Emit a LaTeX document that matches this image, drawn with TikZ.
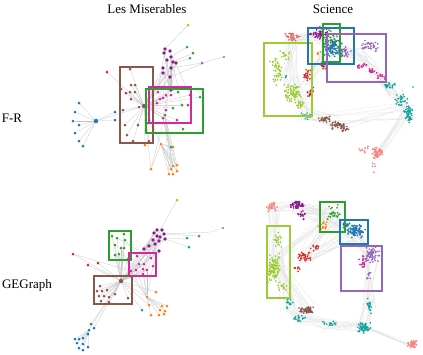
\documentclass[tikz,border=0pt]{standalone}
\usepackage{fontspec}
\setmainfont{Liberation Serif}
\usepackage{xcolor}
\usetikzlibrary{backgrounds}

\definecolor{cblue}{HTML}{1F77B4}
\definecolor{corange}{HTML}{FF7F0E}
\definecolor{cgreen}{HTML}{2CA02C}
\definecolor{cred}{HTML}{D62728}
\definecolor{clav}{HTML}{9467BD}
\definecolor{cbrown}{HTML}{8C564B}
\definecolor{cmag}{HTML}{D12A9E}
\definecolor{cpurp}{HTML}{8B1A8B}
\definecolor{clime}{HTML}{9ACD32}
\definecolor{cteal}{HTML}{17A2A2}
\definecolor{csalm}{HTML}{F8837A}
\definecolor{csalmb}{HTML}{E06662}

\tikzset{
  dot/.style={circle,inner sep=0pt,minimum size=3pt},
  hub/.style={circle,inner sep=0pt,minimum size=4.5pt},
  edge/.style={gray!45,line width=0.3pt},
  web/.style={black!11,line width=0.25pt},
  box/.style={line width=1.2pt},
  title/.style={font=\fontsize{13}{15}\selectfont}
}

% random cloud of small points: colour, cx, cy, rx, ry, count
\newcommand\ptcloud[6]{%
  \foreach \k in {1,...,#6}{%
    \pgfmathsetmacro\px{#2+#4*(rand+rand)/2}%
    \pgfmathsetmacro\py{#3+#5*(rand+rand)/2}%
    \fill[#1] (\px,\py) circle (0.95pt);
  }}
% faint bundle of lines: x1, y1, x2, y2, count, jitter
\newcommand\webl[6]{%
  \foreach \k in {1,...,#5}{%
    \pgfmathsetmacro\ax{#1+#6*rand}\pgfmathsetmacro\ay{#2+#6*rand}%
    \pgfmathsetmacro\bx{#3+#6*rand}\pgfmathsetmacro\by{#4+#6*rand}%
    \draw[web] (\ax,\ay) -- (\bx,\by);
  }}

\begin{document}
\begin{tikzpicture}[x=1pt,y=-1pt]
\useasboundingbox (0,0) rectangle (423,354);
\pgfmathsetseed{7}

% titles
\node[title] (tles) at (147,9) {Les Miserables};
\node[title] (tsci) at (333,9) {Science};
\node[title] (tfr) at (12,118) {F-R};
\node[title] (tge) at (27,285) {GEGraph};

% ---------- F-R, Les Miserables ----------
\node[hub,fill=cblue] (Abh) at (96,121) {};
\foreach \x/\y [count=\i] in {79/103,75/112,73/121,79/125,75/133,79/141,83/146,115/112,115/120}
  \node[dot,fill=cblue] (Ab\i) at (\x,\y) {};
\foreach \x/\y [count=\i] in {107/72,121/89,126/93}
  \node[dot,fill=cred] (Ar\i) at (\x,\y) {};
\node[hub,fill=cbrown] (Ah) at (144,106) {};
\foreach \x/\y [count=\i] in {130/69,131/85,135/85,130/92,135/92,131/99,139/107,123/110,125/125,138/125,127/135,133/141,149/141}
  \node[dot,fill=cbrown] (An\i) at (\x,\y) {};
\foreach \x/\y [count=\i] in {165/49,170/51,164/53,171/57,167/60,173/62,176/63,163/68,171/68,163/73,170/77,171/90}
  \node[dot,minimum size=3.6pt,fill=cpurp] (Ap\i) at (\x,\y) {};
\foreach \x/\y [count=\i] in {158/92,166/95,171/95,160/99,163/98,157/103,153/108,166/110,163/118,177/120,188/105}
  \node[dot,fill=cmag] (Am\i) at (\x,\y) {};
\foreach \x/\y [count=\i] in {178/92,190/95,200/97,182/105,173/108,165/115,153/126,183/129,148/123}
  \node[dot,fill=cgreen] (Ag\i) at (\x,\y) {};
\foreach \x/\y [count=\i] in {145/145,161/144,173/147,151/169,173/166,177/165,171/169,177/171,169/174,173/174}
  \node[dot,fill=corange] (Ao\i) at (\x,\y) {};
\node[dot,fill=clime] (Al) at (188,25) {};
\node[dot,fill=cteal] (At1) at (187,47) {};
\node[dot,fill=cteal] (At2) at (190,58) {};
\node[dot,fill=cteal] (At3) at (171,147) {};
\node[dot,fill=cgreen] (Ag0) at (193,53) {};
\node[dot,fill=clav] (Av) at (202,63) {};
\coordinate (Aout) at (211,60);
\begin{scope}[on background layer]
\foreach \i in {1,...,9} \draw[edge] (Abh) -- (Ab\i);
\draw[edge] (Abh) -- (Ah);
\foreach \i in {1,...,13} \draw[edge] (Ah) -- (An\i);
\foreach \i in {1,...,3} \draw[edge] (Ah) -- (Ar\i);
\foreach \i in {1,...,11} \draw[edge] (Ah) -- (Am\i);
\foreach \i in {1,...,9} \draw[edge] (Ah) -- (Ag\i);
\foreach \i in {1,2,4} \draw[edge] (Ah) -- (Ao\i);
\foreach \i in {6,...,12} \draw[edge] (Ah) -- (Ap\i);
\foreach \i in {1,...,11} \draw[edge] (Ap\i) -- (Ap12);
\foreach \i in {1,3,5,7,9} \draw[edge] (Ap\i) -- (Am\i);
\foreach \i in {2,4,6} \draw[edge] (Ap\i) -- (Ag\i);
\draw[edge] (Ap1) -- (Al);
\draw[edge] (Ap4) -- (At1);
\draw[edge] (Ap7) -- (At2);
\draw[edge] (Ap6) -- (Ag0);
\draw[edge] (Ap9) -- (Av);
\draw[edge] (Ap11) -- (Aout);
\foreach \i in {3,...,10} \draw[edge] (Ao2) -- (Ao\i);
\foreach \i in {4,...,10} \draw[edge] (Ag6) -- (Ao\i);
\foreach \i in {5,8} \draw[edge] (Am9) -- (Ao\i);
\draw[edge] (At3) -- (Ao2);
\end{scope}
\draw[box,cbrown] (120,67) rectangle (153,143);
\draw[box,cmag] (149,87) rectangle (191,123);
\draw[box,cgreen] (146,89) rectangle (203,133);

% ---------- F-R, Science ----------
\webl{292}{38}{318}{35}{18}{6}
\webl{318}{35}{334}{48}{25}{7}
\webl{334}{48}{360}{55}{25}{8}
\webl{360}{55}{375}{72}{18}{6}
\webl{375}{72}{395}{92}{18}{6}
\webl{395}{92}{408}{112}{18}{8}
\webl{292}{38}{290}{80}{18}{8}
\webl{290}{80}{308}{115}{18}{8}
\webl{308}{115}{335}{122}{18}{8}
\webl{305}{80}{330}{50}{18}{7}
\webl{335}{122}{408}{112}{10}{10}
\webl{408}{112}{378}{153}{10}{6}
\draw[edge] (224,57) -- (211,60);
\fill[clav] (224,57) circle (1.2pt);
\ptcloud{csalmb}{292}{37}{9}{5}{35}
\ptcloud{clime}{276}{70}{8}{16}{45}
\ptcloud{clime}{293}{93}{10}{11}{80}
\ptcloud{clime}{300}{105}{6}{5}{20}
\ptcloud{clime}{285}{55}{6}{6}{15}
\ptcloud{cred}{307}{75}{4}{7}{22}
\ptcloud{cred}{310}{92}{4}{7}{18}
\ptcloud{cred}{324}{66}{6}{4}{16}
\ptcloud{cteal}{286}{77}{2}{2}{3}
\ptcloud{cpurp}{318}{33}{10}{8}{55}
\ptcloud{clav}{345}{52}{8}{7}{35}
\ptcloud{clav}{370}{46}{9}{6}{40}
\ptcloud{cgreen}{331}{42}{7}{14}{45}
\ptcloud{cblue}{334}{48}{12}{10}{85}
\ptcloud{corange}{319}{53}{2}{3}{5}
\ptcloud{cmag}{362}{66}{6}{3}{16}
\ptcloud{cmag}{372}{71}{6}{3}{16}
\ptcloud{cmag}{381}{77}{5}{3}{10}
\ptcloud{cteal}{389}{86}{7}{5}{20}
\ptcloud{cteal}{402}{100}{8}{8}{28}
\ptcloud{cteal}{409}{114}{6}{9}{55}
\ptcloud{cteal}{306}{116}{5}{4}{14}
\fill[cteal] (413,87) circle (0.95pt);
\ptcloud{cbrown}{325}{119}{7}{4}{28}
\ptcloud{cbrown}{337}{125}{8}{5}{42}
\ptcloud{cbrown}{344}{129}{5}{3}{14}
\ptcloud{csalm}{377}{153}{7}{6}{55}
\ptcloud{csalm}{365}{150}{8}{4}{10}
\ptcloud{csalm}{374}{168}{2}{7}{5}
\draw[box,clime] (264,43) rectangle (312,116);
\draw[box,cblue] (308,28) rectangle (354,64);
\draw[box,cgreen] (323,24) rectangle (340,62);
\draw[box,clav] (327,34) rectangle (386,82);

% ---------- GEGraph, Les Miserables ----------
\node[hub,fill=cbrown] (Ch) at (121,281) {};
\foreach \x/\y [count=\i] in {91/324,89/330,94/328,88/334,75/339,79/339,83/338,77/343,83/344,88/347,79/348,83/350}
  \node[dot,fill=cblue] (Cb\i) at (\x,\y) {};
\foreach \x/\y [count=\i] in {73/254,88/265,98/263}
  \node[dot,fill=cred] (Cr\i) at (\x,\y) {};
\foreach \x/\y [count=\i] in {100/286,97/291,102/291,107/290,115/294,99/296,104/296,109/297,101/301,109/302,128/298}
  \node[dot,fill=cbrown] (Cn\i) at (\x,\y) {};
\foreach \x/\y [count=\i] in {157/230,162/230,154/233,164/234,157/236,160/237,165/239,153/240,159/241,155/244,149/246,159/251,144/249}
  \node[dot,minimum size=3.6pt,fill=cpurp] (Cp\i) at (\x,\y) {};
\foreach \x/\y [count=\i] in {112/236,117/238,124/234,125/240,115/245,121/248,124/248,115/255,119/254,128/259}
  \node[dot,fill=cgreen] (Cg\i) at (\x,\y) {};
\foreach \x/\y [count=\i] in {137/256,151/258,139/264,144/264,153/266,131/271,136/270,143/269,147/270,143/274,131/276}
  \node[dot,fill=cmag] (Cm\i) at (\x,\y) {};
\foreach \x/\y [count=\i] in {147/297,156/292,149/305,162/306,167/306,160/310,165/311,151/315,159/315,164/314}
  \node[dot,fill=corange] (Co\i) at (\x,\y) {};
\node[dot,fill=clime] (Cl) at (177,200) {};
\node[dot,fill=cteal] (Ct1) at (187,238) {};
\node[dot,fill=cteal] (Ct2) at (189,247) {};
\node[dot,fill=cteal] (Ct3) at (142,310) {};
\node[dot,fill=clav] (Cv) at (199,236) {};
\coordinate (Cout) at (211,232);
\begin{scope}[on background layer]
\foreach \i in {1,...,11} \draw[edge] (Ch) -- (Cn\i);
\foreach \i in {1,...,11} \draw[edge] (Ch) -- (Cm\i);
\foreach \i in {1,...,10} \draw[edge] (Ch) -- (Cg\i);
\foreach \i in {1,...,3} \draw[edge] (Ch) -- (Cr\i);
\foreach \i in {9,...,13} \draw[edge] (Ch) -- (Cp\i);
\foreach \i in {1,2,3} \draw[edge] (Ch) -- (Co\i);
\foreach \i in {1,2,3} \draw[edge] (Ch) -- (Cb\i);
\draw[edge] (Ch) -- (Ct3);
\foreach \i in {4,...,12} \draw[edge] (Cb2) -- (Cb\i);
\foreach \i in {1,...,12} \draw[edge] (Cp\i) -- (Cp13);
\foreach \i in {1,...,11} \draw[edge] (Cp\i) -- (Cm\i);
\foreach \i in {2,4,6,8} \draw[edge] (Cg\i) -- (Cm\i);
\draw[edge] (Cl) -- (Cp5);
\draw[edge] (Ct1) -- (Cp7);
\draw[edge] (Ct2) -- (Cp7);
\draw[edge] (Cv) -- (Cp4);
\draw[edge] (Cout) -- (Cp4);
\foreach \i in {3,...,10} \draw[edge] (Co1) -- (Co\i);
\foreach \i in {5,...,11} \draw[edge] (Cm\i) -- (Co1);
\draw[edge] (Cr1) -- (Cm6);
\end{scope}
\draw[box,cgreen] (109,231) rectangle (131,260);
\draw[box,cmag] (129,253) rectangle (156,276);
\draw[box,cbrown] (94,276) rectangle (132,304);

% ---------- GEGraph, Science ----------
\webl{272}{208}{298}{207}{12}{6}
\webl{298}{207}{333}{215}{18}{8}
\webl{333}{215}{355}{232}{18}{8}
\webl{355}{232}{372}{258}{18}{8}
\webl{372}{258}{369}{303}{15}{8}
\webl{369}{303}{364}{327}{15}{6}
\webl{364}{327}{330}{325}{15}{6}
\webl{330}{325}{300}{318}{15}{6}
\webl{300}{318}{288}{305}{12}{6}
\webl{288}{305}{276}{262}{15}{8}
\webl{276}{262}{272}{208}{15}{8}
\webl{306}{258}{333}{215}{12}{8}
\webl{306}{258}{355}{232}{12}{8}
\webl{276}{262}{308}{310}{12}{8}
\webl{298}{207}{355}{232}{10}{8}
\webl{276}{262}{333}{215}{10}{8}
\webl{364}{327}{412}{345}{8}{2}
\draw[edge] (223,228) -- (211,232);
\fill[clav] (223,228) circle (1.2pt);
\ptcloud{csalm}{272}{207}{6}{5}{28}
\ptcloud{cpurp}{298}{205}{8}{5}{48}
\ptcloud{cpurp}{302}{215}{6}{5}{14}
\ptcloud{cgreen}{333}{213}{8}{9}{28}
\ptcloud{corange}{322}{225}{6}{5}{15}
\ptcloud{cblue}{356}{231}{10}{8}{85}
\ptcloud{cblue}{346}{225}{5}{4}{14}
\ptcloud{clav}{372}{255}{8}{10}{65}
\ptcloud{clav}{369}{275}{3}{5}{10}
\ptcloud{cmag}{363}{262}{4}{8}{20}
\ptcloud{clime}{274}{268}{7}{15}{100}
\ptcloud{clime}{278}{240}{5}{10}{20}
\ptcloud{clime}{283}{286}{5}{5}{14}
\ptcloud{cred}{304}{257}{9}{5}{35}
\ptcloud{cred}{315}{248}{5}{4}{12}
\ptcloud{cred}{297}{268}{4}{4}{8}
\ptcloud{cteal}{288}{303}{5}{6}{16}
\ptcloud{cteal}{298}{318}{8}{4}{20}
\ptcloud{cteal}{330}{324}{14}{3}{16}
\ptcloud{cteal}{364}{328}{7}{6}{65}
\ptcloud{cteal}{369}{305}{3}{10}{20}
\ptcloud{cbrown}{307}{310}{10}{4}{65}
\ptcloud{csalm}{412}{344}{5}{4}{40}
\draw[box,cgreen] (320,202) rectangle (345,232);
\draw[box,cblue] (340,220) rectangle (368,244);
\draw[box,clime] (267,226) rectangle (290,298);
\draw[box,clav] (341,246) rectangle (382,291);
\end{tikzpicture}
\end{document}
